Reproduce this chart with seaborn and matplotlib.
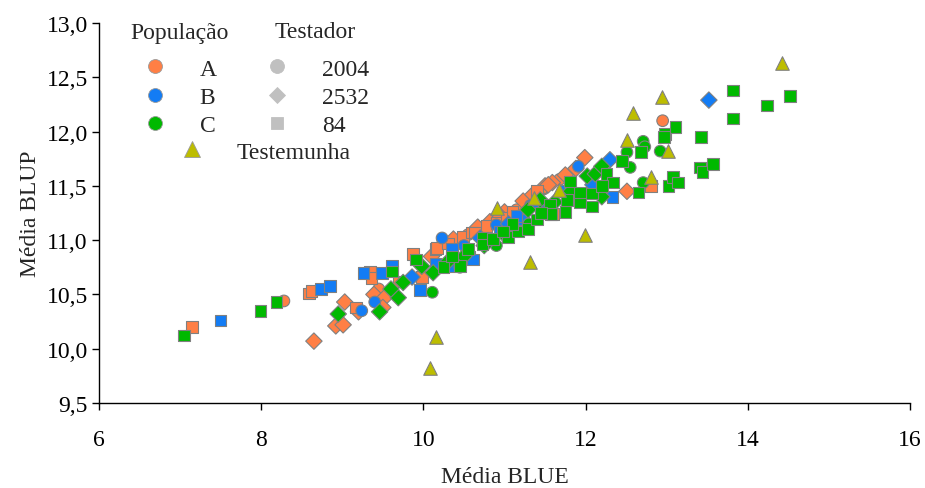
import matplotlib
matplotlib.use("Agg")
import matplotlib.pyplot as plt
from matplotlib.lines import Line2D
from matplotlib.ticker import FuncFormatter
import seaborn as sns
import pandas as pd

# (Média BLUE, Média BLUP) por população e testador
A_2004 = [(8.28, 10.44), (12.95, 12.10), (10.24, 11.00), (10.55, 11.05), (10.86, 11.18),
          (11.48, 11.47), (11.68, 11.56), (9.45, 10.55), (11.15, 11.28)]
A_2532 = [(8.65, 10.07), (8.92, 10.21), (9.01, 10.22), (9.03, 10.43), (9.20, 10.34),
          (9.39, 10.50), (9.52, 10.47), (9.50, 10.38), (10.67, 11.12), (10.82, 11.17),
          (11.00, 11.26), (11.23, 11.36), (11.50, 11.50), (11.59, 11.53), (11.54, 11.51),
          (11.99, 11.76), (12.51, 11.45), (10.37, 11.01), (11.75, 11.60), (11.88, 11.66),
          (10.95, 11.22), (10.10, 10.85), (11.35, 11.42)]
A_84 = [(7.15, 10.20), (8.59, 10.51), (8.62, 10.53), (9.17, 10.38), (9.34, 10.71),
        (9.36, 10.65), (9.87, 10.87), (10.15, 10.92), (9.98, 10.66), (10.49, 11.03),
        (10.60, 11.07), (10.64, 11.07), (10.78, 11.13), (10.91, 11.16), (11.03, 11.21),
        (11.10, 11.26), (11.60, 11.24), (12.81, 11.50), (10.17, 10.93), (9.70, 10.62),
        (10.30, 10.97), (11.40, 11.45)]

B_2004 = [(9.24, 10.35), (9.40, 10.43), (10.23, 11.02), (11.91, 11.68), (10.90, 11.14),
          (11.32, 11.32), (10.50, 10.95)]
B_2532 = [(9.86, 10.66), (12.30, 11.74), (13.52, 12.29), (12.09, 11.51), (11.05, 11.15),
          (11.42, 11.33), (10.70, 11.02)]
B_84 = [(7.50, 10.26), (8.74, 10.55), (8.85, 10.58), (9.26, 10.70), (9.49, 10.70),
        (9.61, 10.76), (9.96, 10.54), (10.30, 10.76), (10.35, 10.92), (10.57, 10.85),
        (10.61, 10.82), (10.94, 11.08), (11.23, 11.19), (11.56, 11.31), (12.33, 11.40),
        (10.15, 10.78), (10.80, 11.00), (11.15, 11.22), (11.75, 11.45)]

C_2004 = [(10.11, 10.52), (12.71, 11.91), (12.73, 11.86), (12.92, 11.82), (12.51, 11.81),
          (12.55, 11.67), (12.71, 11.53), (10.45, 10.75), (10.90, 10.95), (11.30, 11.15)]
C_2532 = [(8.95, 10.32), (9.46, 10.34), (9.69, 10.47), (9.75, 10.61), (9.98, 10.76),
          (10.12, 10.70), (11.44, 11.37), (11.29, 11.28), (12.02, 11.59), (12.12, 11.61),
          (12.20, 11.68), (12.20, 11.40), (10.50, 10.85), (10.75, 10.95), (11.00, 11.05),
          (11.62, 11.35), (11.82, 11.45), (9.60, 10.55), (10.30, 10.80)]
C_84 = [(7.05, 10.12), (7.99, 10.35), (8.19, 10.43), (9.61, 10.71), (9.91, 10.82),
        (10.45, 10.76), (10.55, 10.92), (10.73, 11.02), (10.73, 10.96), (10.86, 11.01),
        (11.04, 11.03), (11.17, 11.08), (11.29, 11.10), (11.40, 11.19), (11.56, 11.33),
        (11.57, 11.24), (11.75, 11.26), (11.77, 11.37), (11.93, 11.35), (12.08, 11.31),
        (12.08, 11.43), (11.81, 11.54), (11.93, 11.44), (12.26, 11.61), (12.34, 11.53),
        (12.45, 11.73), (12.68, 11.81), (12.65, 11.44), (12.98, 11.98), (13.11, 12.04),
        (12.97, 11.95), (13.02, 11.50), (13.08, 11.58), (13.14, 11.53), (13.41, 11.67),
        (13.44, 11.63), (13.57, 11.70), (13.42, 11.95), (13.82, 12.38), (13.82, 12.12),
        (14.24, 12.24), (14.52, 12.33), (10.25, 10.75), (10.35, 10.85), (11.10, 11.15),
        (10.98, 11.08), (11.45, 11.25), (12.20, 11.50)]

testemunha_x = [14.42, 12.94, 12.58, 12.51, 13.02, 12.81, 10.91, 11.36, 11.67, 11.99, 11.31, 10.16, 10.08]
testemunha_y = [12.63, 12.32, 12.17, 11.92, 11.82, 11.58, 11.30, 11.39, 11.46, 11.05, 10.80, 10.11, 9.82]

populacoes = ["A", "B", "C"]
testadores = ["2004", "2532", "84"]
cores = {"A": "#FF7F45", "B": "#137CF4", "C": "#00B900"}
marcadores = {"2004": "o", "2532": "D", "84": "s"}
cor_testemunha = "#BDBD00"

grupos = [("A", "2004", A_2004), ("A", "2532", A_2532), ("A", "84", A_84),
          ("B", "2004", B_2004), ("B", "2532", B_2532), ("B", "84", B_84),
          ("C", "2004", C_2004), ("C", "2532", C_2532), ("C", "84", C_84)]
rows = []
for pop, test, pts in grupos:
    for bx, by in pts:
        rows.append({"blue": bx, "blup": by, "pop": pop, "tester": test})
df = pd.DataFrame(rows)

sns.set_style("ticks")
plt.rcParams["font.family"] = ["Liberation Serif", "DejaVu Serif"]
FS = 17

fig = plt.figure(figsize=(9.25, 4.89), dpi=100)
ax = fig.add_axes([99 / 925, 1 - 404 / 489, (910 - 99) / 925, (404 - 24) / 489])

sns.scatterplot(data=df, x="blue", y="blup", hue="pop", style="tester",
                hue_order=populacoes, style_order=testadores,
                palette=cores, markers=marcadores, s=70,
                edgecolor="#808080", linewidth=0.8, legend=False, ax=ax, zorder=3)
sns.scatterplot(x=testemunha_x, y=testemunha_y, marker="^", color=cor_testemunha,
                s=95, edgecolor="#808080", linewidth=0.8, ax=ax, zorder=4)

ax.set_xlim(6, 16)
ax.set_ylim(9.5, 13.0)
ax.set_xticks([6, 8, 10, 12, 14, 16])
ax.set_yticks([9.5, 10.0, 10.5, 11.0, 11.5, 12.0, 12.5, 13.0])
ax.yaxis.set_major_formatter(FuncFormatter(lambda v, p: f"{v:.1f}".replace(".", ",")))
ax.tick_params(labelsize=FS, length=5, width=1, colors="black")
ax.tick_params(axis="x", pad=14)
ax.tick_params(axis="y", pad=3)
ax.set_xlabel("Média BLUE", fontsize=FS, labelpad=11)
ax.set_ylabel("Média BLUP", fontsize=FS, labelpad=4)
for sp in ["left", "bottom"]:
    ax.spines[sp].set_color("black")
    ax.spines[sp].set_linewidth(1)
sns.despine(ax=ax)

def mk(marker, color, size=10, edge="#9a9a9a"):
    return Line2D([], [], marker=marker, color=color, linestyle="none",
                  markersize=size, markeredgecolor=edge, markeredgewidth=0.6)

h_pop = [mk("o", cores[p]) for p in populacoes]
h_test = [mk("o", "#C0C0C0", 10, "#C0C0C0"), mk("D", "#C0C0C0", 8, "#C0C0C0"),
          mk("s", "#C0C0C0", 8.5, "#C0C0C0")]
h_tm = [mk("^", cor_testemunha, 11)]

fig.text(180 / 925, 1 - 33 / 489, "População", fontsize=FS, ha="center", va="center")
fig.text(315 / 925, 1 - 33 / 489, "Testador", fontsize=FS, ha="center", va="center")

kw = dict(frameon=False, fontsize=FS, handlelength=1.0, handletextpad=1.38,
          labelspacing=0.29, borderpad=0, borderaxespad=0,
          loc="upper left", bbox_transform=fig.transFigure)
leg1 = ax.legend(h_pop, populacoes, bbox_to_anchor=(143.5 / 925, 1 - 59 / 489), **kw)
ax.add_artist(leg1)
leg2 = ax.legend(h_test, testadores, bbox_to_anchor=(265.5 / 925, 1 - 59 / 489), **kw)
ax.add_artist(leg2)
ax.legend(h_tm, ["Testemunha"], bbox_to_anchor=(180.5 / 925, 1 - 142 / 489), **kw)

fig.savefig("out.png", dpi=100)
